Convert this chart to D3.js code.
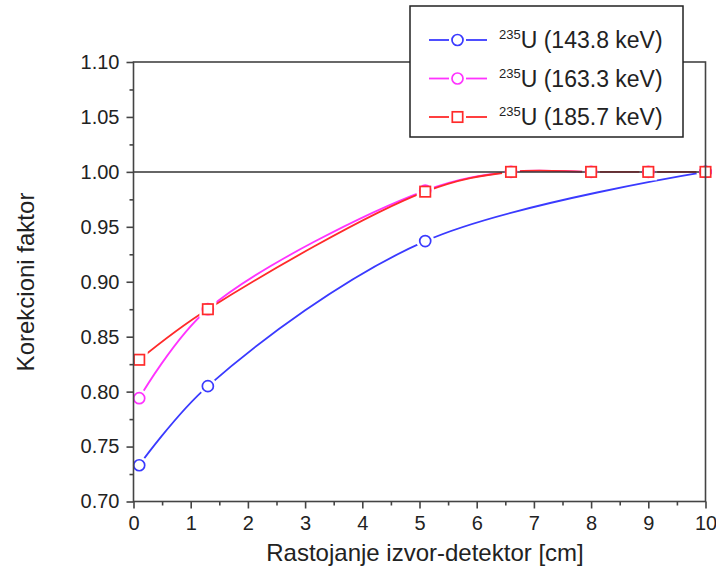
<!DOCTYPE html>
<html><head><meta charset="utf-8">
<script src="https://cdn.jsdelivr.net/npm/d3@7"></script>
<style>body{margin:0;background:#fff}svg{display:block;font-family:"Liberation Sans",Arial,sans-serif}</style>
</head><body><svg id="c" width="716" height="578"></svg>
<script>
const xTicks = [0,1,2,3,4,5,6,7,8,9,10];
const yTicks = [0.70,0.75,0.80,0.85,0.90,0.95,1.00,1.05,1.10];
const xBlue = [0.1, 1.3, 5.1, 10];
const yBlue = [0.733, 0.805, 0.937, 1.000];
const xMagenta = [0.1, 1.3, 5.1, 6.6, 8, 9, 10];
const yMagenta = [0.794, 0.875, 0.983, 1.000, 1.000, 1.000, 1.000];
const xRed = [0.1, 1.3, 5.1, 6.6, 8, 9, 10];
const yRed = [0.829, 0.875, 0.982, 1.000, 1.000, 1.000, 1.000];
const seriesNames = ["U (143.8 keV)", "U (163.3 keV)", "U (185.7 keV)"];

const series = [
  {name: seriesNames[0], xs: xBlue, ys: yBlue, color: "#3a3aff", shape: "circle"},
  {name: seriesNames[1], xs: xMagenta, ys: yMagenta, color: "#ff33ff", shape: "circle"},
  {name: seriesNames[2], xs: xRed, ys: yRed, color: "#ff2a2a", shape: "square"}
];

const svg = d3.select("#c");
const L = 133.5, R = 705.5, T = 62, B = 501.5;
const x = d3.scaleLinear().domain([0,10]).range([L,R]);
const y = d3.scaleLinear().domain([0.70,1.10]).range([B,T]);

const line = d3.line().x(d=>x(d[0])).y(d=>y(d[1])).curve(d3.curveCatmullRom.alpha(0.5));
series.forEach(s=>{
  const pts = s.xs.map((v,i)=>[v,s.ys[i]]);
  svg.append("path").attr("d",line(pts)).attr("fill","none")
    .attr("stroke",s.color).attr("stroke-width",1.8);
});

function halo(g, s, cx, cy){
  if(s.shape==="circle") g.append("circle").attr("cx",cx).attr("cy",cy).attr("r",9).attr("fill","#fff");
  else g.append("rect").attr("x",cx-8.5).attr("y",cy-8.5).attr("width",17).attr("height",17).attr("fill","#fff");
}
function marker(g, s, cx, cy){
  if(s.shape==="circle"){
    g.append("circle").attr("cx",cx).attr("cy",cy).attr("r",5.5).attr("fill","#fff")
      .attr("stroke",s.color).attr("stroke-width",1.7);
  } else {
    g.append("rect").attr("x",cx-5.2).attr("y",cy-5.2).attr("width",10.4).attr("height",10.4).attr("fill","#fff")
      .attr("stroke",s.color).attr("stroke-width",1.7);
  }
}
series.forEach(s=>{
  const g = svg.append("g");
  s.xs.forEach((v,i)=>halo(g,s,x(v),y(s.ys[i])));
});
// reference line at 1.00
svg.append("line").attr("x1",L).attr("x2",R).attr("y1",y(1)).attr("y2",y(1))
  .attr("stroke","#333").attr("stroke-width",1.5);
series.forEach(s=>{
  const g = svg.append("g");
  s.xs.forEach((v,i)=>marker(g,s,x(v),y(s.ys[i])));
});

// frame
svg.append("rect").attr("x",L).attr("y",T).attr("width",R-L).attr("height",B-T)
  .attr("fill","none").attr("stroke","#444").attr("stroke-width",1.6);

// x axis
const xAx = svg.append("g").attr("transform",`translate(0,${B})`)
  .call(d3.axisBottom(x).tickValues(xTicks).tickFormat(d3.format("d")).tickSize(7).tickPadding(7));
const xMinor = svg.append("g").attr("transform",`translate(0,${B})`)
  .call(d3.axisBottom(x).tickValues(d3.range(0.5,10,1)).tickFormat("").tickSize(4));
// y axis
const yAx = svg.append("g").attr("transform",`translate(${L},0)`)
  .call(d3.axisLeft(y).tickValues(yTicks).tickFormat(d3.format(".2f")).tickSize(7).tickPadding(7));
const yMinor = svg.append("g").attr("transform",`translate(${L},0)`)
  .call(d3.axisLeft(y).tickValues(d3.range(0.725,1.10,0.05)).tickFormat("").tickSize(4));
[xAx,xMinor,yAx,yMinor].forEach(g=>{
  g.select(".domain").remove();
  g.selectAll("line").attr("stroke","#444").attr("stroke-width",1.6);
  g.selectAll("text").attr("font-size",20).attr("fill","#222")
    .attr("font-family","'Liberation Sans',Arial,sans-serif");
});

// axis titles
svg.append("text").attr("x",425).attr("y",561).attr("text-anchor","middle")
  .attr("font-size",24).attr("fill","#222").text("Rastojanje izvor-detektor [cm]");
svg.append("text").attr("transform","translate(34,282) rotate(-90)").attr("text-anchor","middle")
  .attr("font-size",24).attr("fill","#222").text("Korekcioni faktor");

// legend
const lg = svg.append("g");
lg.append("rect").attr("x",410).attr("y",6).attr("width",273).attr("height",131)
  .attr("fill","#fff").attr("stroke","#222").attr("stroke-width",1.5);
series.forEach((s,i)=>{
  const cy = 40 + i*38.5;
  lg.append("line").attr("x1",429).attr("x2",449).attr("y1",cy).attr("y2",cy).attr("stroke",s.color).attr("stroke-width",1.8);
  lg.append("line").attr("x1",466).attr("x2",487).attr("y1",cy).attr("y2",cy).attr("stroke",s.color).attr("stroke-width",1.8);
  marker(lg,s,457.5,cy);
  const t = lg.append("text").attr("x",499).attr("y",cy+8).attr("fill","#222").attr("font-size",23);
  t.append("tspan").attr("font-size",13).attr("dy",-9).text("235");
  t.append("tspan").attr("dy",9).text(s.name);
});
</script></body></html>
